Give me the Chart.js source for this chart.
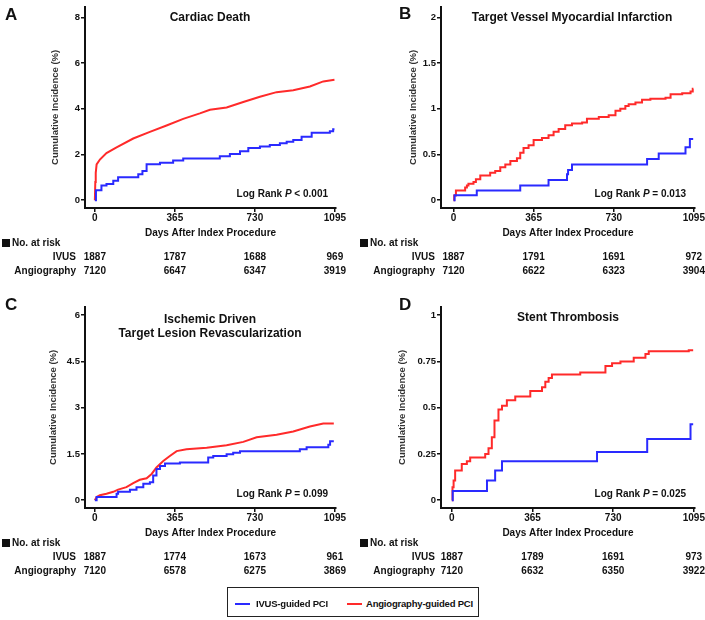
<!DOCTYPE html>
<html><head><meta charset="utf-8">
<script src="https://cdn.jsdelivr.net/npm/chart.js@4.4.1/dist/chart.umd.min.js"></script>
<style>
body{margin:0;background:#fff;}
#wrap{position:relative;width:705px;height:620px;overflow:hidden;font-family:"Liberation Sans",Arial,Helvetica,sans-serif;color:#111;}
canvas{position:absolute;}
.t{position:absolute;white-space:nowrap;font-weight:bold;line-height:1;}
.sq{position:absolute;width:8px;height:8px;background:#111;}
#legend{position:absolute;left:227px;top:587px;width:250px;height:28px;border:1.5px solid #222;}
.seg{position:absolute;height:2px;width:15px;}
</style></head><body><div id="wrap"></div>
<script>
// ---------- data ----------
const dayTicks = [0, 365, 730, 1095];

const yTicksA = [0, 2, 4, 6, 8];
const yTicksB = [0, 0.5, 1, 1.5, 2];
const yTicksC = [0, 1.5, 3, 4.5, 6];
const yTicksD = [0, 0.25, 0.5, 0.75, 1];

// [day, cumulative incidence %]
const cardiacIvus = [[0,0],[5,0.43],[30,0.64],[53,0.71],[84,0.85],[106,1.0],[198,1.14],[217,1.28],[236,1.57],[297,1.64],[357,1.74],[403,1.82],[570,1.92],[616,2.02],[662,2.14],[700,2.28],[753,2.35],[798,2.42],[844,2.49],[875,2.56],[905,2.63],[943,2.78],[989,2.95],[1072,3.02],[1087,3.1],[1093,3.1]];
const cardiacAngio = [[0,0],[2,0.8],[4,1.2],[8,1.57],[23,1.78],[53,2.06],[99,2.31],[175,2.7],[251,2.99],[327,3.27],[403,3.56],[479,3.8],[525,3.96],[601,4.06],[677,4.3],[753,4.53],[829,4.73],[905,4.81],[981,4.98],[1042,5.2],[1093,5.27]];

const miIvus = [[0,0],[5,0.053],[106,0.107],[304,0.16],[433,0.22],[517,0.285],[522,0.33],[540,0.39],[882,0.45],[935,0.51],[1057,0.58],[1077,0.67],[1092,0.67]];
const miAngio = [[0,0],[3,0.05],[11,0.107],[53,0.14],[61,0.16],[68,0.18],[91,0.2],[102,0.23],[122,0.27],[167,0.3],[190,0.32],[213,0.36],[236,0.39],[259,0.43],[289,0.46],[304,0.52],[319,0.57],[342,0.6],[365,0.66],[403,0.68],[433,0.71],[456,0.75],[479,0.78],[509,0.82],[540,0.84],[586,0.85],[608,0.89],[662,0.91],[707,0.93],[738,0.98],[760,1.0],[783,1.03],[798,1.05],[829,1.07],[859,1.1],[897,1.11],[966,1.12],[989,1.16],[1042,1.17],[1080,1.19],[1090,1.22],[1093,1.22]];

const tlrIvus = [[0,0],[8,0.1],[99,0.21],[106,0.27],[160,0.34],[190,0.42],[221,0.53],[251,0.58],[266,0.8],[281,1.01],[297,1.11],[320,1.19],[388,1.22],[517,1.38],[540,1.43],[601,1.49],[631,1.54],[662,1.59],[935,1.65],[966,1.72],[1065,1.8],[1073,1.91],[1090,1.91]];
const tlrAngio = [[0,0],[8,0.1],[23,0.16],[53,0.21],[84,0.27],[106,0.34],[144,0.42],[175,0.55],[205,0.66],[236,0.71],[259,0.85],[281,1.06],[312,1.27],[342,1.43],[373,1.59],[418,1.65],[510,1.7],[601,1.78],[677,1.89],[738,2.04],[829,2.12],[905,2.23],[981,2.39],[1042,2.49],[1090,2.49]];

const stIvus = [[0,0],[4,0.05],[159,0.106],[196,0.16],[227,0.21],[657,0.26],[884,0.33],[1080,0.41],[1092,0.41]];
const stAngio = [[0,0],[3,0.07],[8,0.106],[15,0.16],[45,0.195],[68,0.21],[83,0.23],[151,0.25],[166,0.28],[181,0.34],[193,0.43],[211,0.49],[227,0.51],[249,0.54],[287,0.56],[355,0.59],[408,0.61],[423,0.64],[438,0.66],[453,0.68],[581,0.69],[695,0.725],[725,0.74],[763,0.75],[823,0.77],[876,0.79],[891,0.805],[1072,0.81],[1092,0.81]];

// numbers at risk at dayTicks
const riskIvusA = [1887, 1787, 1688, 969];
const riskAngioA = [7120, 6647, 6347, 3919];
const riskIvusB = [1887, 1791, 1691, 972];
const riskAngioB = [7120, 6622, 6323, 3904];
const riskIvusC = [1887, 1774, 1673, 961];
const riskAngioC = [7120, 6578, 6275, 3869];
const riskIvusD = [1887, 1789, 1691, 973];
const riskAngioD = [7120, 6632, 6350, 3922];

const pValues = ['< 0.001', '= 0.013', '= 0.099', '= 0.025'];
const titles = [['Cardiac Death'], ['Target Vessel Myocardial Infarction'], ['Ischemic Driven', 'Target Lesion Revascularization'], ['Stent Thrombosis']];
const seriesNames = ['IVUS-guided PCI', 'Angiography-guided PCI'];

// ---------- layout ----------
const FONT = '"Liberation Sans", Arial, Helvetica, sans-serif';
const BLUE = '#2a2aff', RED = '#ff2a2a';
const wrap = document.getElementById('wrap');

const panels = [
  {letter:'A', ivus:cardiacIvus, angio:cardiacAngio, angioStep:false, yTicks:yTicksA, risk:[riskIvusA,riskAngioA],
   L:0, T:0, W:352, yW:85, padR:16, padT:2, xMin:-45, xMax:1100, yMin:-0.342, yMax:8.47, ytPad:50, letterX:5, letterY:14, titleX:210, pRight:328, labRight:76, sqX:2},
  {letter:'B', ivus:miIvus, angio:miAngio, angioStep:true, yTicks:yTicksB, risk:[riskIvusB,riskAngioB],
   L:352, T:0, W:353, yW:89, padR:10, padT:2, xMin:-57, xMax:1100, yMin:-0.0855, yMax:2.1175, ytPad:56, letterX:399, letterY:13, titleX:572, pRight:686, labRight:435, sqX:360},
  {letter:'C', ivus:tlrIvus, angio:tlrAngio, angioStep:false, yTicks:yTicksC, risk:[riskIvusC,riskAngioC],
   L:0, T:300, W:352, yW:85, padR:16, padT:3, xMin:-45, xMax:1100, yMin:-0.255, yMax:6.277, ytPad:48, letterX:5, letterY:304, titleX:210, pRight:328, labRight:76, sqX:2},
  {letter:'D', ivus:stIvus, angio:stAngio, angioStep:true, yTicks:yTicksD, risk:[riskIvusD,riskAngioD],
   L:352, T:300, W:353, yW:89, padR:10, padT:3, xMin:-49, xMax:1100, yMin:-0.0425, yMax:1.046, ytPad:45, letterX:399, letterY:304, titleX:568, pRight:686, labRight:435, sqX:360}
];

function txt(html, x, y, size, align, extra) {
  const d = document.createElement('div');
  d.className = 't';
  d.innerHTML = html;
  d.style.left = x + 'px';
  d.style.top = y + 'px';
  d.style.fontSize = size + 'px';
  const tx = align === 'c' ? '-50%' : (align === 'r' ? '-100%' : '0');
  d.style.transform = 'translate(' + tx + ',-50%)';
  if (extra) Object.assign(d.style, extra);
  wrap.appendChild(d);
  return d;
}

const H = 245;
panels.forEach((p, i) => {
  const cv = document.createElement('canvas');
  cv.width = p.W; cv.height = H;
  cv.style.left = p.L + 'px'; cv.style.top = p.T + 'px';
  cv.style.width = p.W + 'px'; cv.style.height = H + 'px';
  wrap.appendChild(cv);

  const axisCommon = {
    grid: {display:true, drawOnChartArea:false, drawTicks:true, tickLength:4, color:'#111', lineWidth:1.5},
    border: {display:true, color:'#111', width:2}
  };
  const chart = new Chart(cv.getContext('2d'), {
    type: 'line',
    data: {
      datasets: [
        {label: seriesNames[0], data: p.ivus.map(([x,y]) => ({x, y})), borderColor: BLUE, borderWidth: 2, pointRadius: 0, stepped: true, fill: false},
        {label: seriesNames[1], data: p.angio.map(([x,y]) => ({x, y})), borderColor: RED, borderWidth: 2, pointRadius: 0, stepped: p.angioStep, tension: 0, fill: false}
      ]
    },
    options: {
      responsive: false, animation: false, events: [], devicePixelRatio: 1,
      layout: {padding: {left:0, right:p.padR, top:p.padT, bottom:0}},
      plugins: {legend:{display:false}, tooltip:{enabled:false}, title:{display:false}},
      scales: {
        x: Object.assign({
          type:'linear', min:p.xMin, max:p.xMax,
          afterFit(s) { s.height = 37; },
          afterBuildTicks(s) { s.ticks = dayTicks.map(v => ({value:v})); },
          ticks: {padding:0, color:'#111', autoSkip:false, maxRotation:0, font:{family:FONT, size:10, weight:'bold'}, callback: v => String(v)},
          title: {display:true, text:'Days After Index Procedure', color:'#111', padding:{top:0, bottom:6}, font:{family:FONT, size:10, weight:'bold'}}
        }, axisCommon),
        y: Object.assign({
          type:'linear', min:p.yMin, max:p.yMax,
          afterFit(s) { s.width = p.yW; },
          afterBuildTicks(s) { s.ticks = p.yTicks.map(v => ({value:v})); },
          ticks: {padding:1, color:'#111', autoSkip:false, font:{family:FONT, size:9.5, weight:'bold'}, callback: v => String(v)},
          title: {display:true, text:'Cumulative Incidence (%)', color:'#333', padding:{top:p.ytPad, bottom:0}, font:{family:FONT, size:9.5, weight:'bold'}}
        }, axisCommon)
      }
    }
  });

  // panel letter
  txt(p.letter, p.letterX, p.letterY, 17, 'l');
  // title
  const tl = titles[i];
  tl.forEach((line, k) => txt(line, p.titleX, p.T + 17 + k * 14 + (tl.length > 1 ? 2 : 0), 12, 'c'));
  // log rank
  txt('Log Rank <i>P</i> ' + pValues[i], p.pRight, p.T + 194, 10, 'r');

  // number at risk table
  const sq = document.createElement('div');
  sq.className = 'sq'; sq.style.left = p.sqX + 'px'; sq.style.top = (p.T + 239) + 'px';
  wrap.appendChild(sq);
  txt('No. at risk', p.sqX + 10, p.T + 243, 10, 'l');
  txt('IVUS', p.labRight, p.T + 256.5, 10, 'r');
  txt('Angiography', p.labRight, p.T + 271, 10, 'r');
  const xs = chart.scales.x;
  dayTicks.forEach((d, k) => {
    const px = p.L + xs.getPixelForValue(d);
    txt(String(p.risk[0][k]), px, p.T + 256.5, 10, 'c');
    txt(String(p.risk[1][k]), px, p.T + 271, 10, 'c');
  });
});

// legend
const lg = document.createElement('div');
lg.id = 'legend';
wrap.appendChild(lg);
const s1 = document.createElement('div'); s1.className = 'seg'; s1.style.background = BLUE; s1.style.left = '7px'; s1.style.top = '15px'; lg.appendChild(s1);
const s2 = document.createElement('div'); s2.className = 'seg'; s2.style.background = RED; s2.style.left = '119px'; s2.style.top = '15px'; lg.appendChild(s2);
txt(seriesNames[0], 256, 604, 9.5, 'l', {letterSpacing:'-0.2px'});
txt(seriesNames[1], 366, 604, 9.5, 'l', {letterSpacing:'-0.2px'});
</script>
</body></html>
